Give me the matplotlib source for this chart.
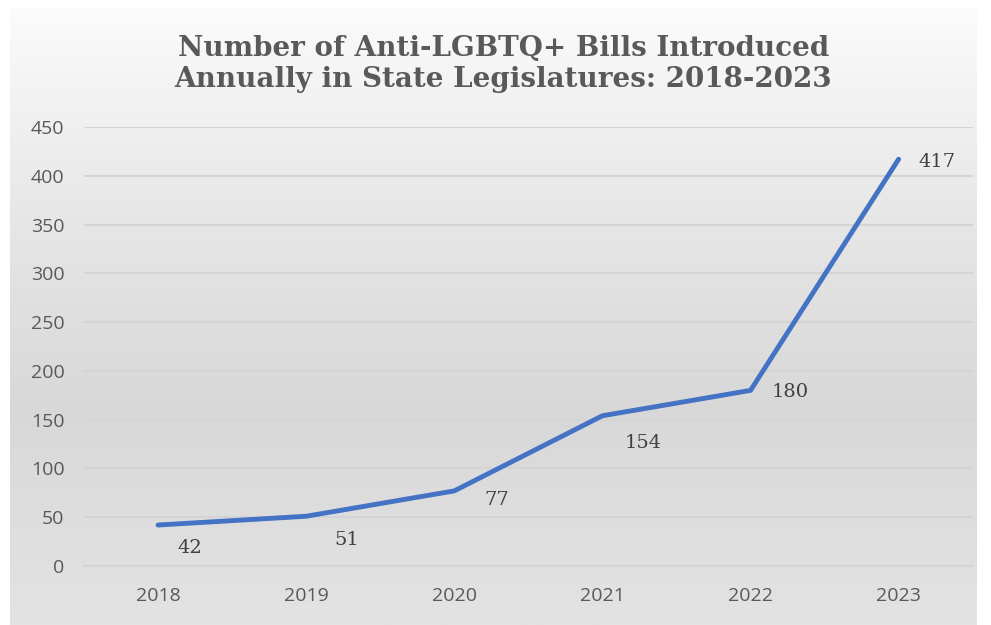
import numpy as np
import matplotlib
matplotlib.use("Agg")
import matplotlib.pyplot as plt
from matplotlib.colors import LinearSegmentedColormap

years = ["2018", "2019", "2020", "2021", "2022", "2023"]
bills = [42, 51, 77, 154, 180, 417]
# where each value label sits relative to its point (in pixels)
label_dx = [32, 41, 42, 41, 40, 38]
label_dy = [-23, -24, -9, -27, -2, -3]

fig = plt.figure(figsize=(9.91, 6.25), dpi=100)
fig.patch.set_facecolor("white")

# chart box with a grey vertical gradient
bg = fig.add_axes([0.0101, 0.0, 0.975, 0.987], zorder=0)
grad = LinearSegmentedColormap.from_list(
    "bg", [(0, "#fbfbfb"), (0.35, "#e6e6e6"), (0.65, "#d8d8d8"), (1, "#e3e3e3")])
bg.imshow(np.linspace(0, 1, 256).reshape(-1, 1), aspect="auto", cmap=grad,
          extent=[0, 1, 0, 1], origin="upper")
bg.set_xlim(0, 1)
bg.set_ylim(0, 1)
bg.axis("off")

ax = fig.add_axes([0.0848, 0.0944, 0.8967, 0.7024], zorder=1)
ax.patch.set_alpha(0)
x = np.arange(len(years))
ax.plot(x, bills, color="#4472C4", lw=3.5, solid_capstyle="round",
        solid_joinstyle="round", zorder=3)

for xi, v, dx, dy in zip(x, bills, label_dx, label_dy):
    ax.annotate(str(v), (xi, v), xytext=(dx * 0.72, dy * 0.72),
                textcoords="offset points", ha="center", va="center",
                fontsize=14, color="#404040", family="DejaVu Serif")

ax.set_xlim(-0.5, 5.5)
ax.set_ylim(0, 450)
ax.set_yticks(range(0, 451, 50))
ax.set_xticks(x)
ax.set_xticklabels(years)
ax.grid(axis="y", color="#d4d4d4", lw=1.5)
ax.set_axisbelow(True)
for s in ["top", "right", "left"]:
    ax.spines[s].set_visible(False)
ax.spines["bottom"].set_color("#d4d4d4")
ax.spines["bottom"].set_linewidth(1.5)
ax.tick_params(length=0, labelsize=14, labelcolor="#595959")
ax.tick_params(axis="y", pad=14)
ax.tick_params(axis="x", pad=15)
for lab in ax.get_xticklabels() + ax.get_yticklabels():
    lab.set_family("Open Sans")

fig.text(0.508, 0.898, "Number of Anti-LGBTQ+ Bills Introduced\nAnnually in State Legislatures: 2018-2023",
         ha="center", va="center", fontsize=20, fontweight="bold",
         color="#595959", family="DejaVu Serif", linespacing=1.2)

fig.savefig("out.png", dpi=100)
